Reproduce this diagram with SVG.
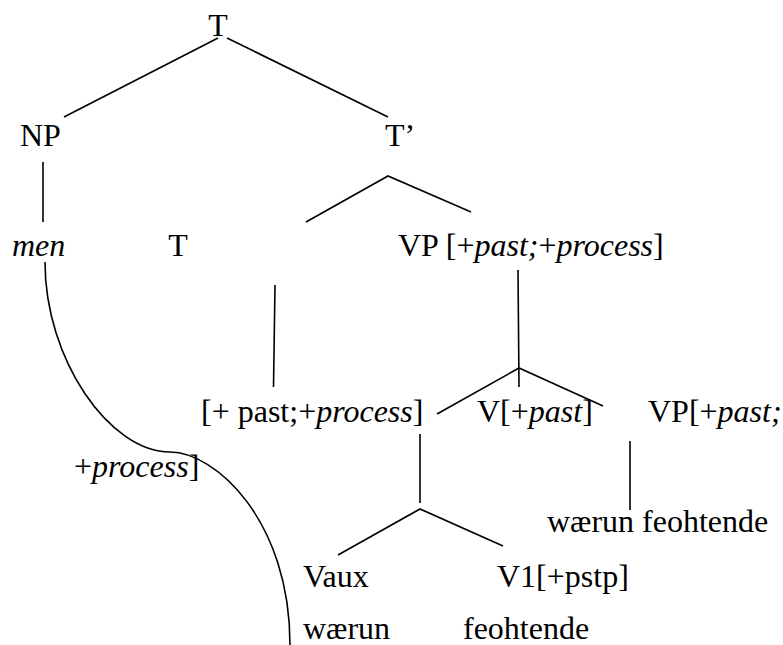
<svg xmlns="http://www.w3.org/2000/svg" width="783" height="645" viewBox="0 0 783 645">
<style>
.t { font-family: "Liberation Serif", "Times New Roman", Times, "DejaVu Serif", serif; font-size: 32px; fill: #000; }
.i { font-style: italic; }
.ln { stroke: #000; stroke-width: 1.6; fill: none; }
</style>
<rect width="783" height="645" fill="#fff"/>
<g id="connectors">
  <line class="ln" x1="218" y1="38" x2="64" y2="117"/>
  <line class="ln" x1="227" y1="38" x2="388" y2="117"/>
  <line class="ln" x1="43" y1="162" x2="43" y2="222"/>
  <polyline class="ln" points="306,222 388,176 471,212"/>
  <line class="ln" x1="275" y1="285" x2="273.5" y2="387"/>
  <line class="ln" x1="518" y1="270" x2="519" y2="387"/>
  <polyline class="ln" points="437,414 519,368 603,406"/>
  <line class="ln" x1="420" y1="434" x2="420" y2="503"/>
  <polyline class="ln" points="338,555 420,509 503,546"/>
  <line class="ln" x1="630" y1="441" x2="630" y2="510"/>
  <path class="ln" d="M45,262 C45,360 110,452 170,452 C215,452 290,520 290,645"/>
</g>
<g class="t">
<g id="n-T"><text x="218" y="36" text-anchor="middle">T</text></g>
<g id="n-NP"><text x="20" y="146">NP</text></g>
<g id="n-Tbar"><text x="385" y="146">T’</text></g>
<g id="n-men"><text x="12" y="256" class="i">men</text></g>
<g id="n-T2"><text x="178" y="256" text-anchor="middle">T</text></g>
<g id="n-VP"><text x="398" y="256">VP [+<tspan class="i">past;</tspan>+<tspan class="i">process</tspan>]</text></g>
<g id="n-Tfeat"><text x="201" y="422">[+ past;+<tspan class="i">process</tspan>]</text></g>
<g id="n-V"><text x="477" y="422">V[+<tspan class="i">past</tspan>]</text></g>
<g id="n-VP2"><text x="648" y="422">VP[+<tspan class="i">past;</tspan></text></g>
<g id="n-process"><text x="74" y="477">+<tspan class="i">process</tspan>]</text></g>
<g id="n-waerun-feohtende"><text x="547" y="532">wærun feohtende</text></g>
<g id="n-Vaux"><text x="303" y="587">Vaux</text></g>
<g id="n-V1"><text x="497" y="587">V1[+pstp]</text></g>
<g id="n-waerun"><text x="303" y="639">wærun</text></g>
<g id="n-feohtende"><text x="463" y="639">feohtende</text></g>
</g>
</svg>
